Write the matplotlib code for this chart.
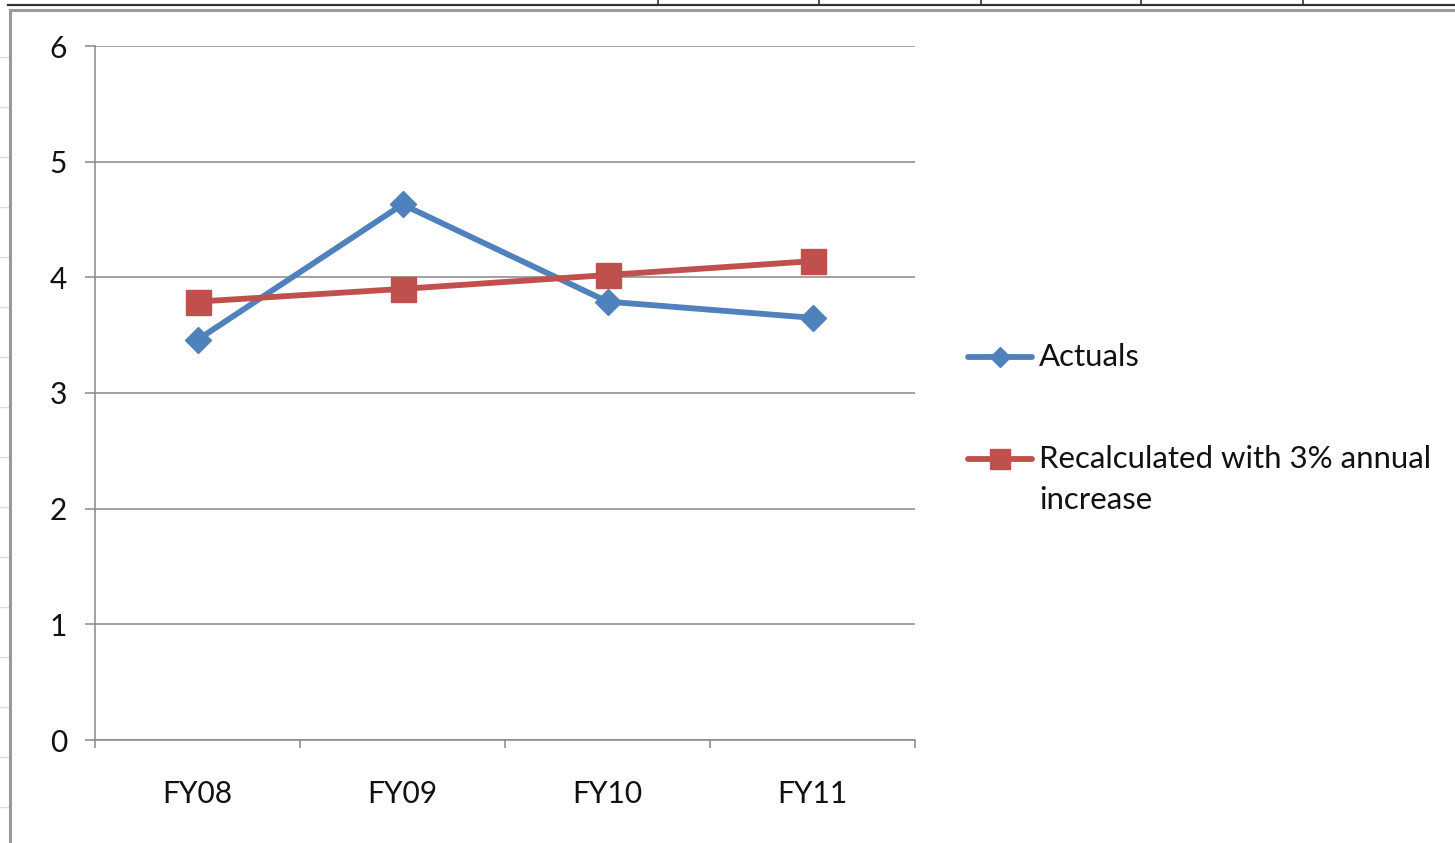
import matplotlib
matplotlib.use("Agg")
import matplotlib.pyplot as plt
from matplotlib.lines import Line2D

plt.rcParams['font.family'] = ['Lato', 'DejaVu Sans']

categories = ["FY08", "FY09", "FY10", "FY11"]
actuals = [3.46, 4.63, 3.79, 3.65]
recalculated = [3.79, 3.90, 4.02, 4.14]
y_ticks = [0, 1, 2, 3, 4, 5, 6]

BLUE = "#4F81BD"
RED = "#C0504D"
GRID = "#888888"
TEXT = "#111111"
FS = 21.5
LEG_FS = 22.4

W, H = 1455, 843
fig = plt.figure(figsize=(W / 100, H / 100), dpi=100)
fig.patch.set_facecolor("white")


def fx(px):
    return px / W


def fy(py):
    return 1 - py / H


# worksheet surroundings: header row, cell borders and chart frame
for yy in range(57, 843, 50):
    fig.add_artist(Line2D([0, fx(8)], [fy(yy), fy(yy)], color="#d8dce6", lw=1.0))
fig.add_artist(Line2D([fx(8), 1], [fy(5), fy(5)], color="#333333", lw=1.6))
for xx in [658, 819, 981, 1141, 1303]:
    fig.add_artist(Line2D([fx(xx), fx(xx)], [1, fy(5)], color="#333333", lw=1.2))
fig.add_artist(Line2D([fx(10), 1], [fy(10), fy(10)], color="#9a9a9a", lw=2.2))
fig.add_artist(Line2D([fx(10), fx(10)], [0, fy(10)], color="#9a9a9a", lw=2.2))

ax = fig.add_axes([fx(95), fy(740), fx(915) - fx(95), fy(46) - fy(740)])
x = list(range(len(categories)))

ax.plot(x, actuals, color=BLUE, lw=4.2, marker="D", markersize=13,
        markerfacecolor=BLUE, markeredgecolor=BLUE, zorder=3, solid_joinstyle="round")
ax.plot(x, recalculated, color=RED, lw=4.2, marker="s", markersize=18,
        markerfacecolor=RED, markeredgecolor=RED, zorder=3)

ax.set_xlim(-0.5, len(categories) - 0.5)
ax.set_ylim(0, 6)
ax.set_yticks(y_ticks)
ax.set_yticklabels([str(v) for v in y_ticks])
ax.set_xticks(x)
ax.set_xticklabels(categories)
ax.set_xticks([i - 0.5 for i in range(len(categories) + 1)], minor=True)

ax.grid(axis="y", color=GRID, lw=1.1)
ax.set_axisbelow(True)
for s in ["top", "right"]:
    ax.spines[s].set_visible(False)
for s in ["left", "bottom"]:
    ax.spines[s].set_color(GRID)
    ax.spines[s].set_linewidth(1.1)

ax.tick_params(axis="y", length=7.2, width=1.1, color=GRID, pad=13,
               labelsize=FS, labelcolor=TEXT)
ax.tick_params(axis="x", which="major", length=0, pad=29,
               labelsize=FS, labelcolor=TEXT)
ax.tick_params(axis="x", which="minor", length=6, width=1.1, color=GRID)

# legend drawn at the right of the plot
for ly, color, mk, ms in [(357, BLUE, "D", 10.5), (459, RED, "s", 15)]:
    fig.add_artist(Line2D([fx(968), fx(1032)], [fy(ly), fy(ly)], color=color, lw=4.2,
                          solid_capstyle="round"))
    fig.add_artist(Line2D([fx(1000)], [fy(ly)], color=color, marker=mk, markersize=ms,
                          markerfacecolor=color, markeredgecolor=color))
fig.text(fx(1039), fy(357), "Actuals", fontsize=LEG_FS, va="center", ha="left", color=TEXT)
fig.text(fx(1039), fy(459), "Recalculated with 3% annual", fontsize=LEG_FS, va="center",
         ha="left", color=TEXT)
fig.text(fx(1039), fy(500), "increase", fontsize=LEG_FS, va="center", ha="left", color=TEXT)

fig.savefig("out.png", dpi=100)
